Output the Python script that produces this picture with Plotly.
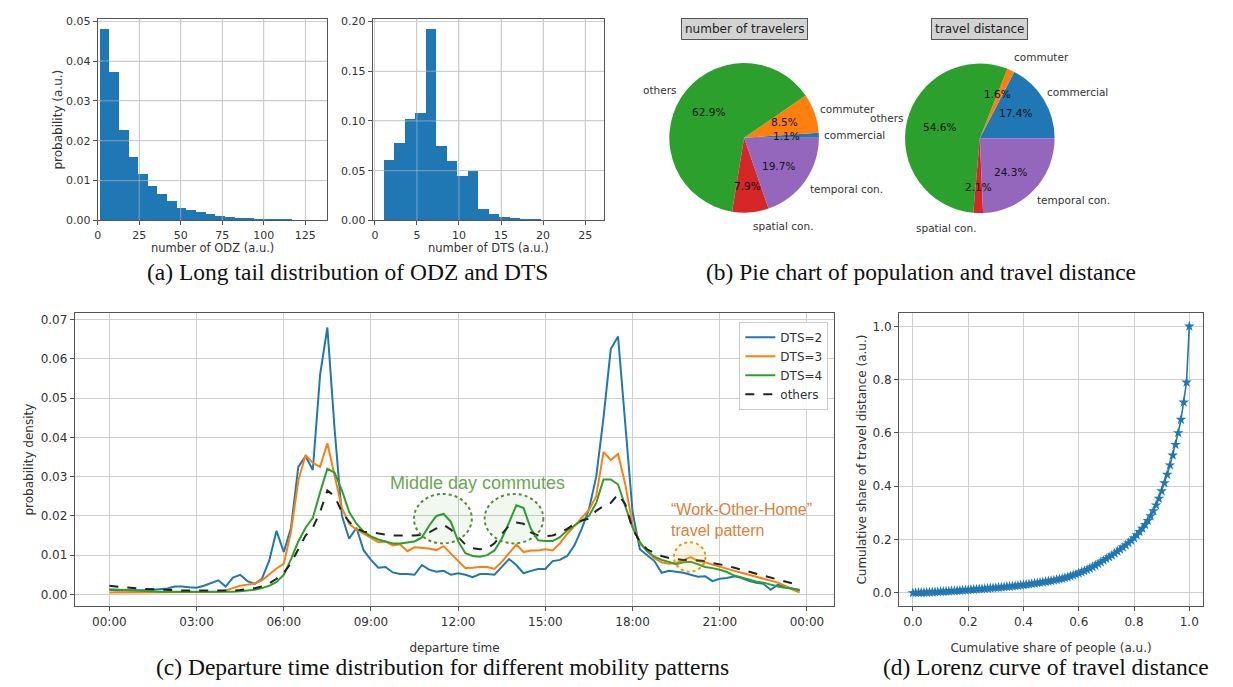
import math
import numpy as np
import plotly.graph_objects as go

W, H = 1233, 687

def px(x):
    return x / W

def py(y):
    return 1 - y / H

# ---------------- (a) histograms ----------------
odz_bin_start = 1.0
odz_bin_width = 5.8
odz_prob = [0.0482, 0.0374, 0.0228, 0.0161, 0.0117, 0.0088, 0.0066, 0.0049, 0.0031, 0.0026,
            0.0021, 0.0016, 0.0012, 0.0010, 0.0008, 0.0006, 0.0005, 0.0004, 0.0003, 0.0002,
            0.00015, 0.0001, 0.00005]
odz_ticks = [0, 25, 50, 75, 100, 125]
odz_yticks = [0.0, 0.01, 0.02, 0.03, 0.04, 0.05]

dts_bin_start = 1.0
dts_bin_width = 1.25
dts_prob = [0.061, 0.078, 0.102, 0.108, 0.193, 0.075, 0.060, 0.045, 0.050, 0.012,
            0.007, 0.004, 0.003, 0.0015, 0.001, 0.0007, 0.0005, 0.0003, 0.0002, 0.0001]
dts_ticks = [0, 5, 10, 15, 20, 25]
dts_yticks = [0.0, 0.05, 0.10, 0.15, 0.20]

# ---------------- (b) pies ----------------
pie_labels = ["commercial", "commuter", "others", "spatial con.", "temporal con."]
pie_colors = ["#1f77b4", "#ff7f0e", "#2ca02c", "#d62728", "#9467bd"]
travelers_pct = [1.1, 8.5, 62.9, 7.9, 19.7]
distance_pct = [17.4, 1.6, 54.6, 2.1, 24.3]

# ---------------- (c) departure time ----------------
time_hours = [i * 0.25 for i in range(96)]
time_tickvals = [0, 3, 6, 9, 12, 15, 18, 21, 24]
time_ticktext = ["00:00", "03:00", "06:00", "09:00", "12:00", "15:00", "18:00", "21:00", "00:00"]

dts2 = [0.0012, 0.0010, 0.0010, 0.0010, 0.0010, 0.0011, 0.0012, 0.0013,
        0.0015, 0.0020, 0.0020, 0.0018, 0.0017, 0.0022, 0.0028, 0.0036,
        0.0020, 0.0043, 0.0050, 0.0034, 0.0027, 0.0040, 0.0086, 0.0162,
        0.0108, 0.0170, 0.0325, 0.0352, 0.0317, 0.0560, 0.0680, 0.0420,
        0.0200, 0.0142, 0.0170, 0.0112, 0.0088, 0.0068, 0.0070, 0.0056,
        0.0052, 0.0052, 0.0050, 0.0075, 0.0063, 0.0058, 0.0060, 0.0050,
        0.0054, 0.0050, 0.0044, 0.0052, 0.0052, 0.0050, 0.0070, 0.0090,
        0.0075, 0.0054, 0.0060, 0.0065, 0.0065, 0.0085, 0.0088, 0.0098,
        0.0125, 0.0167, 0.0217, 0.0300, 0.0450, 0.0625, 0.0657, 0.0425,
        0.0210, 0.0115, 0.0100, 0.0085, 0.0055, 0.0060, 0.0058, 0.0055,
        0.0050, 0.0045, 0.0046, 0.0034, 0.0040, 0.0042, 0.0046, 0.0042,
        0.0035, 0.0030, 0.0027, 0.0012, 0.0025, 0.0020, 0.0015, 0.0010]

dts3 = [0.0005, 0.0005, 0.0005, 0.0005, 0.0005, 0.0005, 0.0005, 0.0005,
        0.0005, 0.0005, 0.0005, 0.0005, 0.0005, 0.0005, 0.0006, 0.0007,
        0.0010, 0.0016, 0.0022, 0.0025, 0.0028, 0.0036, 0.0052, 0.0066,
        0.0078, 0.0160, 0.0290, 0.0355, 0.0335, 0.0325, 0.0385, 0.0300,
        0.0220, 0.0180, 0.0165, 0.0155, 0.0145, 0.0133, 0.0135, 0.0125,
        0.0128, 0.0110, 0.0120, 0.0118, 0.0117, 0.0113, 0.0123, 0.0104,
        0.0085, 0.0067, 0.0068, 0.0070, 0.0070, 0.0065, 0.0083, 0.0104,
        0.0127, 0.0108, 0.0112, 0.0112, 0.0115, 0.0112, 0.0130, 0.0154,
        0.0175, 0.0195, 0.0215, 0.0250, 0.0363, 0.0342, 0.0358, 0.0280,
        0.0178, 0.0130, 0.0110, 0.0092, 0.0082, 0.0078, 0.0080, 0.0088,
        0.0095, 0.0085, 0.0082, 0.0076, 0.0070, 0.0066, 0.0060, 0.0055,
        0.0050, 0.0046, 0.0040, 0.0035, 0.0030, 0.0022, 0.0012, 0.0005]

dts4 = [0.0013, 0.0012, 0.0011, 0.0010, 0.0009, 0.0008, 0.0008, 0.0007,
        0.0007, 0.0007, 0.0006, 0.0006, 0.0006, 0.0006, 0.0006, 0.0006,
        0.0006, 0.0007, 0.0008, 0.0010, 0.0012, 0.0016, 0.0022, 0.0032,
        0.0050, 0.0090, 0.0135, 0.0170, 0.0195, 0.0260, 0.0320, 0.0310,
        0.0265, 0.0210, 0.0180, 0.0160, 0.0148, 0.0140, 0.0135, 0.0130,
        0.0130, 0.0132, 0.0135, 0.0145, 0.0175, 0.0200, 0.0205, 0.0185,
        0.0135, 0.0105, 0.0098, 0.0096, 0.0100, 0.0112, 0.0142, 0.0183,
        0.0227, 0.0220, 0.0167, 0.0138, 0.0136, 0.0136, 0.0146, 0.0163,
        0.0175, 0.0188, 0.0200, 0.0233, 0.0293, 0.0293, 0.0280, 0.0225,
        0.0170, 0.0133, 0.0110, 0.0096, 0.0088, 0.0083, 0.0077, 0.0082,
        0.0083, 0.0077, 0.0070, 0.0067, 0.0063, 0.0057, 0.0048, 0.0043,
        0.0038, 0.0033, 0.0030, 0.0025, 0.0020, 0.0017, 0.0015, 0.0012]

others = [0.0022, 0.0020, 0.0018, 0.0016, 0.0015, 0.0014, 0.0013, 0.0012,
          0.0011, 0.0011, 0.0010, 0.0010, 0.0010, 0.0009, 0.0009, 0.0009,
          0.0009, 0.0010, 0.0011, 0.0013, 0.0016, 0.0020, 0.0028, 0.0040,
          0.0055, 0.0080, 0.0115, 0.0150, 0.0170, 0.0210, 0.0265, 0.0250,
          0.0210, 0.0185, 0.0168, 0.0160, 0.0158, 0.0155, 0.0153, 0.0150,
          0.0150, 0.0150, 0.0150, 0.0152, 0.0158, 0.0168, 0.0177, 0.0165,
          0.0145, 0.0127, 0.0118, 0.0115, 0.0117, 0.0130, 0.0154, 0.0175,
          0.0183, 0.0180, 0.0158, 0.0150, 0.0148, 0.0150, 0.0157, 0.0167,
          0.0180, 0.0188, 0.0193, 0.0213, 0.0225, 0.0233, 0.0255, 0.0230,
          0.0167, 0.0135, 0.0115, 0.0105, 0.0098, 0.0093, 0.0090, 0.0088,
          0.0088, 0.0087, 0.0085, 0.0080, 0.0077, 0.0073, 0.0068, 0.0063,
          0.0058, 0.0053, 0.0048, 0.0043, 0.0038, 0.0033, 0.0028, 0.0025]

series_names = ["DTS=2", "DTS=3", "DTS=4", "others"]
series_colors = ["#1f77b4", "#ff7f0e", "#2ca02c", "#222222"]
series_dash = ["solid", "solid", "solid", "dash"]
dens_yticks = [0.0, 0.01, 0.02, 0.03, 0.04, 0.05, 0.06, 0.07]

# ---------------- (d) Lorenz curve ----------------
lorenz_people = np.linspace(0.0, 1.0, 101)
lorenz_share = [0.0000, 0.0003, 0.0006, 0.0010, 0.0014, 0.0018, 0.0023, 0.0028, 0.0033, 0.0038,
                0.0043, 0.0049, 0.0055, 0.0061, 0.0067, 0.0074, 0.0081, 0.0088, 0.0095, 0.0102,
                0.0110, 0.0118, 0.0126, 0.0134, 0.0142, 0.0150, 0.0158, 0.0166, 0.0175, 0.0184,
                0.0193, 0.0202, 0.0211, 0.0221, 0.0231, 0.0241, 0.0252, 0.0263, 0.0275, 0.0287,
                0.0300, 0.0313, 0.0327, 0.0341, 0.0356, 0.0371, 0.0387, 0.0403, 0.0420, 0.0437,
                0.0455, 0.0474, 0.0494, 0.0515, 0.0537, 0.0565, 0.0595, 0.0627, 0.0662, 0.0700,
                0.0740, 0.0782, 0.0825, 0.0870, 0.0920, 0.0975, 0.1030, 0.1090, 0.1150, 0.1215,
                0.1280, 0.1345, 0.1410, 0.1480, 0.1555, 0.1630, 0.1710, 0.1790, 0.1875, 0.1965,
                0.2060, 0.2170, 0.2290, 0.2420, 0.2560, 0.2710, 0.2880, 0.3070, 0.3290, 0.3540,
                0.3820, 0.4120, 0.4440, 0.4790, 0.5160, 0.5560, 0.6000, 0.6500, 0.7150, 0.7900,
                1.0000]
lorenz_ticks = [0.0, 0.2, 0.4, 0.6, 0.8, 1.0]

# ---------------- figure ----------------
TICKFONT = dict(family="DejaVu Sans", size=12, color="#333333")
SMALLTICK = dict(family="DejaVu Sans", size=11, color="#333333")
TITLEFONT = dict(family="DejaVu Sans", size=12, color="#333333")
GRID = "#cfcfcf"

def axis(domain, rng, tickvals, anchor, ticktext=None, fmt=None, title=None, standoff=None, tickfont=None):
    d = dict(domain=domain, range=rng, tickvals=tickvals, anchor=anchor,
             showline=True, mirror=True, linecolor="#555555", linewidth=1,
             showgrid=True, gridcolor=GRID, gridwidth=1, zeroline=False,
             ticks="outside", ticklen=4, tickcolor="#555555", tickfont=tickfont or TICKFONT)
    if ticktext is not None:
        d["ticktext"] = ticktext
    if fmt is not None:
        d["tickformat"] = fmt
    if title is not None:
        d["title"] = dict(text=title, font=TITLEFONT)
        if standoff is not None:
            d["title"]["standoff"] = standoff
    return d

fig = go.Figure()

odz_centers = [odz_bin_start + odz_bin_width * (i + 0.5) for i in range(len(odz_prob))]
fig.add_trace(go.Bar(x=odz_centers, y=odz_prob, width=odz_bin_width, marker=dict(color="#1f77b4", line=dict(width=0)),
                     xaxis="x", yaxis="y", showlegend=False))
dts_centers = [dts_bin_start + dts_bin_width * (i + 0.5) for i in range(len(dts_prob))]
fig.add_trace(go.Bar(x=dts_centers, y=dts_prob, width=dts_bin_width, marker=dict(color="#1f77b4", line=dict(width=0)),
                     xaxis="x2", yaxis="y2", showlegend=False))

# pies (first slice starts at 3 o'clock, going counterclockwise)
PIE_R = 76
pie1_c = (742.5, 136.0)
pie2_c = (979.0, 136.5)
for vals, c in [(travelers_pct, pie1_c), (distance_pct, pie2_c)]:
    first_angle = 360.0 * vals[0] / sum(vals)
    fig.add_trace(go.Pie(values=vals, labels=pie_labels, marker=dict(colors=pie_colors, line=dict(width=0)),
                         sort=False, direction="counterclockwise", rotation=90 - first_angle,
                         textinfo="none", hoverinfo="label+percent", showlegend=False,
                         domain=dict(x=[px(c[0] - PIE_R), px(c[0] + PIE_R)],
                                     y=[py(c[1] + PIE_R), py(c[1] - PIE_R)])))

for name, ys, col, dash in zip(series_names, [dts2, dts3, dts4, others], series_colors, series_dash):
    fig.add_trace(go.Scatter(x=time_hours, y=ys, mode="lines", name=name,
                             line=dict(color=col, width=2, dash=dash), xaxis="x3", yaxis="y3"))

fig.add_trace(go.Scatter(x=lorenz_people, y=lorenz_share, mode="lines+markers",
                         line=dict(color="#1f77b4", width=1.6),
                         marker=dict(symbol="star", size=8, color="#1f77b4"),
                         xaxis="x4", yaxis="y4", showlegend=False))

annotations = []
PIEFONT = 10.5
def pie_annotations(vals, center, rx, ry):
    cx, cy = center
    total = sum(vals)
    cum = 0.0
    out = []
    for v, lab in zip(vals, pie_labels):
        mid = math.radians((cum + v / 2) / total * 360.0)
        cum += v
        c, s = math.cos(mid), math.sin(mid)
        out.append(dict(x=px(cx + 1.1 * rx * c), y=py(cy - 1.1 * ry * s), text=lab,
                        xanchor="left" if c > 0 else "right", yanchor="middle",
                        showarrow=False, xref="paper", yref="paper",
                        font=dict(family="DejaVu Sans", size=PIEFONT, color="#333333")))
        out.append(dict(x=px(cx + 0.6 * rx * c), y=py(cy - 0.6 * ry * s), text=f"{v:.1f}%",
                        xanchor="center", yanchor="middle", showarrow=False,
                        xref="paper", yref="paper",
                        font=dict(family="DejaVu Sans", size=PIEFONT, color="#111111")))
    return out

annotations += pie_annotations(travelers_pct, pie1_c, 71, 82)
annotations += pie_annotations(distance_pct, pie2_c, 70, 83)

for text, x in [("number of travelers", 743), ("travel distance", 979)]:
    annotations.append(dict(x=px(x), y=py(25), text=text, showarrow=False, xref="paper", yref="paper",
                            xanchor="center", yanchor="middle", bgcolor="#d3d3d3", bordercolor="#555555",
                            borderwidth=1, borderpad=3,
                            font=dict(family="DejaVu Sans", size=12, color="#222222")))

# x-axis titles of the two histograms (placed tight under the tick labels)
for text, x in [("number of ODZ (a.u.)", 209), ("number of DTS (a.u.)", 486)]:
    annotations.append(dict(x=px(x), y=py(248), text=text, showarrow=False, xref="paper", yref="paper",
                            xanchor="center", yanchor="middle",
                            font=dict(family="DejaVu Sans", size=11.5, color="#333333")))

CAP = dict(family="Liberation Serif", size=23.5, color="#111111")
for text, x, y in [("(a) Long tail distribution of ODZ and DTS", 345, 272),
                   ("(b) Pie chart of population and travel distance", 920, 272),
                   ("(c) Departure time distribution for different mobility patterns", 440, 674),
                   ("(d) Lorenz curve of travel distance", 1045, 674)]:
    annotations.append(dict(x=px(x), y=py(y), text=text, showarrow=False, xref="paper", yref="paper",
                            xanchor="center", yanchor="middle", font=CAP))

annotations.append(dict(x=px(475), y=py(487), text="Middle day commutes", showarrow=False,
                        xref="paper", yref="paper", xanchor="center", yanchor="middle",
                        font=dict(family="Liberation Sans", size=18, color="#6aa84f")))
annotations.append(dict(x=px(667), y=py(524), text="\u201cWork-Other-Home\u201d<br>travel pattern",
                        showarrow=False, xref="paper", yref="paper", xanchor="left", yanchor="middle",
                        align="left", font=dict(family="Liberation Sans", size=16, color="#e0803a")))

shapes = []
# gridlines drawn over the histogram bars (as in matplotlib)
GOVER = "rgba(200,200,200,0.55)"
for xv in odz_ticks[1:]:
    shapes.append(dict(type="line", xref="x", yref="y domain", x0=xv, x1=xv, y0=0, y1=1, layer="above",
                       line=dict(color=GOVER, width=1)))
for yv in odz_yticks[1:-1]:
    shapes.append(dict(type="line", xref="x domain", yref="y", x0=0, x1=1, y0=yv, y1=yv, layer="above",
                       line=dict(color=GOVER, width=1)))
for xv in dts_ticks[1:]:
    shapes.append(dict(type="line", xref="x2", yref="y2 domain", x0=xv, x1=xv, y0=0, y1=1, layer="above",
                       line=dict(color=GOVER, width=1)))
for yv in dts_yticks[1:-1]:
    shapes.append(dict(type="line", xref="x2 domain", yref="y2", x0=0, x1=1, y0=yv, y1=yv, layer="above",
                       line=dict(color=GOVER, width=1)))

# highlight circles in panel (c)
for x0, x1 in [(10.48, 12.47), (12.91, 14.93)]:
    shapes.append(dict(type="circle", xref="x3", yref="y3", x0=x0, x1=x1, y0=0.0130, y1=0.0256,
                       fillcolor="rgba(44,160,44,0.07)", line=dict(color="#5b8a3a", width=2, dash="dot"),
                       layer="above"))
shapes.append(dict(type="circle", xref="x3", yref="y3", x0=19.42, x1=20.51, y0=0.0058, y1=0.0133,
                   fillcolor="rgba(255,200,80,0.15)", line=dict(color="#d4a017", width=2, dash="dot"),
                   layer="above"))

fig.update_layout(
    width=W, height=H, margin=dict(l=0, r=0, t=0, b=0),
    paper_bgcolor="white", plot_bgcolor="white",
    bargap=0,
    xaxis=axis([px(94), px(324)], [0, 138], odz_ticks, "y", tickfont=SMALLTICK),
    yaxis=axis([py(220), py(15)], [0, 0.0506], odz_yticks, "x", fmt=".2f", title="probability (a.u.)",
               standoff=0, tickfont=SMALLTICK),
    xaxis2=axis([px(370), px(602)], [-0.25, 27.25], dts_ticks, "y2", tickfont=SMALLTICK),
    yaxis2=axis([py(220), py(15)], [0, 0.2027], dts_yticks, "x2", fmt=".2f", tickfont=SMALLTICK),
    xaxis3=axis([px(71), px(833)], [-1.19, 24.94], time_tickvals, "y3", ticktext=time_ticktext,
                title="departure time"),
    yaxis3=axis([py(612), py(314)], [-0.003, 0.0717], dens_yticks, "x3", fmt=".2f",
                title="probability density", standoff=4),
    xaxis4=axis([px(898), px(1203)], [-0.05, 1.05], lorenz_ticks, "y4", fmt=".1f",
                title="Cumulative share of people (a.u.)"),
    yaxis4=axis([py(612), py(314)], [-0.05, 1.05], lorenz_ticks, "x4", fmt=".1f",
                title="Cumulative share of travel distance (a.u.)", standoff=3),
    legend=dict(x=px(827), y=py(323), xanchor="right", yanchor="top",
                bgcolor="rgba(255,255,255,0.85)", bordercolor="#cccccc", borderwidth=1,
                font=dict(family="DejaVu Sans", size=12, color="#333333"),
                tracegroupgap=0, itemwidth=30),
    annotations=annotations,
    shapes=shapes,
)

fig.write_html("out.html")
